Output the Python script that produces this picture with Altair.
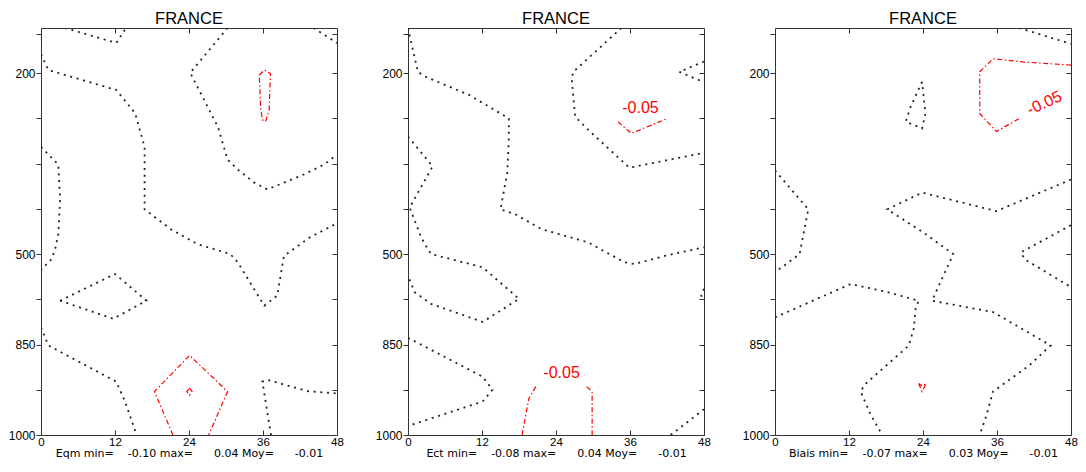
import altair as alt
import pandas as pd

# ---------------- axes definitions ----------------
LEADS = [0, 12, 24, 36, 48]
INNER_LEADS = [12, 24, 36]
LEVEL_POS = [0.14, 1, 2, 3, 4, 5, 6, 7, 8, 9]
LEVEL_LABELS = ["", "200", "", "", "", "500", "", "850", "", "1000"]
TITLE = "FRANCE"
NB = "\u00a0"

# ---------------- panel 1 : Eqm ----------------
EQM_STATS = "Eqm min=" + NB * 4 + "-0.10" + NB + "max=" + NB * 6 + "0.04" + NB + "Moy=" + NB * 6 + "-0.01"
EQM_ZERO = [
    [(3.9, 0), (12.2, 0.33), (13.8, 0)],
    [(0, 0.58), (1.2, 0.93), (12.2, 1.37), (15.25, 1.88), (16.8, 2.63), (16.8, 4.01), (21.05, 4.45),
     (25.4, 4.78), (30.7, 5.0), (31.9, 5.18), (36.2, 6.14), (38.3, 5.92), (39.4, 5.04), (43.6, 4.63), (48, 4.32)],
    [(30.25, 0), (24.2, 0.99), (28.7, 2.19), (30.25, 2.91), (31.9, 3.13), (34.6, 3.42), (36.7, 3.57),
     (39.4, 3.42), (42.6, 3.24), (45.9, 3.02), (48, 2.8)],
    [(44.2, 0), (48, 0.33)],
    [(0, 2.63), (2.8, 3.02), (3.1, 3.79), (2.8, 4.56), (2.3, 4.89), (1.7, 5.11), (0, 5.35)],
    [(3.1, 6.03), (12.0, 5.44), (17.1, 6.03), (11.7, 6.43), (3.1, 6.03)],
    [(0, 6.62), (1.2, 7.02), (12.2, 7.82), (13.6, 8.25), (15.5, 9.0)],
    [(37.3, 9.0), (35.9, 7.82), (36.7, 7.78), (43.2, 8.03), (48, 8.08)],
]
EQM_NEG = [
    [(35.4, 1.04), (36.2, 0.93), (37.2, 1.01), (37.0, 1.81), (36.4, 2.07), (35.9, 2.03), (35.6, 1.74), (35.4, 1.04)],
    [(21.4, 9.0), (18.4, 8.04), (24.1, 7.24), (30.25, 8.04), (27.2, 9.0)],
    [(24.07, 7.96), (24.5, 8.04), (24.07, 8.12), (23.65, 8.04), (24.07, 7.96)],
]
EQM_LABELS = []

# ---------------- panel 2 : Ect ----------------
ECT_STATS = "Ect min=" + NB * 4 + "-0.08" + NB + "max=" + NB * 6 + "0.04" + NB + "Moy=" + NB * 6 + "-0.01"
ECT_ZERO = [
    [(0, 0), (0.8, 0.49), (1.6, 0.97), (2.9, 1.08), (9.9, 1.48), (16.35, 2.0), (16.35, 2.47), (16.1, 3.2),
     (15.0, 4.01), (17.4, 4.12), (21.7, 4.45), (29.2, 4.74), (35.1, 5.18), (36.7, 5.22), (41.6, 5.04), (48, 4.85)],
    [(34.6, 0), (26.8, 0.97), (26.55, 1.12), (27.1, 1.96), (29.2, 2.25), (35.9, 3.09), (48, 2.76)],
    [(48, 0.74), (44.0, 0.97), (48, 1.2)],
    [(0, 2.4), (4.0, 3.06), (0.26, 3.97), (2.14, 4.63), (3.2, 4.89), (3.75, 5.0), (12.1, 5.29), (18.0, 5.99),
     (12.1, 6.5), (3.75, 6.1), (1.06, 5.84), (0, 5.48)],
    [(0, 6.85), (12.1, 7.71), (13.7, 8.0), (12.1, 8.26), (0, 8.8)],
    [(42.6, 9.0), (48, 8.43)],
    [(48, 5.77), (47.5, 5.9), (48, 6.03)],
]
ECT_NEG = [
    [(34.05, 2.07), (36.2, 2.33), (42.1, 2.0)],
    [(18.5, 9.0), (19.6, 8.19), (20.9, 7.89)],
    [(28.96, 7.93), (29.86, 8.04), (29.86, 9.0)],
]
ECT_LABELS = [(37.7, 1.76, "-0.05", 0), (24.9, 7.62, "-0.05", 0)]

# ---------------- panel 3 : Biais ----------------
BIAIS_STATS = "Biais min=" + NB * 4 + "-0.07" + NB + "max=" + NB * 6 + "0.03" + NB + "Moy=" + NB * 6 + "-0.01"
BIAIS_ZERO = [
    [(39.6, 0), (48, 0.35)],
    [(23.85, 1.19), (22.0, 1.74), (21.2, 2.07), (23.85, 2.22), (24.4, 1.89), (23.85, 1.19)],
    [(0, 3.15), (5.4, 4.01), (4.45, 4.67), (4.0, 5.0), (0, 5.4)],
    [(48, 3.35), (35.9, 4.05), (23.85, 3.64), (18.2, 4.01), (24.06, 4.52), (28.9, 5.0), (27.3, 5.48),
     (25.45, 6.03), (30.5, 6.16), (35.35, 6.28), (44.7, 7.02), (41.25, 7.46), (35.35, 8.04), (34.3, 8.56), (33.2, 9.0)],
    [(0, 6.4), (12.3, 5.66), (18.2, 5.84), (23.3, 6.03), (22.8, 6.21), (22.5, 6.65), (21.7, 7.02), (18.75, 7.38),
     (14.5, 7.89), (13.9, 8.04), (15.5, 8.55), (17.4, 9.0)],
    [(48, 4.36), (39.9, 4.96), (40.45, 5.11), (48, 5.73)],
]
BIAIS_NEG = [
    [(48, 0.82), (40.2, 0.75), (35.35, 0.68), (33.2, 0.97), (33.2, 1.89), (35.9, 2.29), (39.6, 2.0)],
    [(23.3, 7.86), (23.85, 8.04), (24.5, 7.86), (23.9, 7.92), (23.3, 7.86)],
]
BIAIS_LABELS = [(43.7, 1.66, "-0.05", 335)]

W, H, GAP = 296, 407, 71
PAD_L, PAD_T, SVG_W, SVG_H = 33, 20, 1070, 453
FONT = "Liberation Sans"
STATS_FONT = "DejaVu Sans"

label_expr = " : ".join(
    f"datum.value == {p} ? '{l}'" for p, l in zip(LEVEL_POS, LEVEL_LABELS) if l
) + " : ''"


def paths_df(paths, prefix):
    rows = []
    for i, path in enumerate(paths):
        for j, (x, y) in enumerate(path):
            rows.append({"line": f"{prefix}{i}", "order": j, "lead": x, "lev": y})
    return pd.DataFrame(rows, columns=["line", "order", "lead", "lev"])


def labels_df(labels):
    return pd.DataFrame(
        [{"lead": x, "lev": y, "txt": t, "ang": a} for x, y, t, a in labels],
        columns=["lead", "lev", "txt", "ang"],
    )


XS = alt.Scale(domain=[0, 48], nice=False, zero=False)
YS = alt.Scale(domain=[0, 9], reverse=True, nice=False, zero=False)


def panel(zero, neg, labels, stats):
    black = alt.Chart(paths_df(zero, "z")).mark_line(
        color="#222222", strokeWidth=1.8, strokeDash=[2, 4.7], clip=True
    ).encode(
        x=alt.X("lead:Q", scale=XS, axis=alt.Axis(
            orient="bottom", values=LEADS, ticks=False, tickSize=0, domain=False, grid=False,
            labelPadding=1, labelFlush=False, labelFontSize=11.5, title=stats, titleFontSize=11,
            titleFontWeight="normal", titlePadding=0, titleColor="black", titleFont=STATS_FONT)),
        y=alt.Y("lev:Q", scale=YS, axis=alt.Axis(
            orient="left", values=LEVEL_POS, labelExpr=label_expr, ticks=True, tickSize=5,
            tickColor="#333333", domain=False, grid=False, labelPadding=1, title=None)),
        detail="line:N",
        order=alt.Order("order:Q"),
    )
    red = alt.Chart(paths_df(neg, "n")).mark_line(
        color="#ff0000", strokeWidth=1.2, strokeDash=[5, 2.5, 1.5, 2.5], clip=True
    ).encode(
        x=alt.X("lead:Q", scale=XS, axis=alt.Axis(
            orient="top", offset=-H, values=INNER_LEADS, labels=False, ticks=True, tickSize=5,
            tickColor="#333333", domain=False, grid=False, title=None)),
        y=alt.Y("lev:Q", scale=YS, axis=alt.Axis(
            orient="left", offset=-W, values=LEVEL_POS, labels=False, ticks=True, tickSize=5,
            tickColor="#333333", domain=False, grid=False, title=None)),
        detail="line:N",
        order=alt.Order("order:Q"),
    )
    text = alt.Chart(labels_df(labels)).mark_text(
        color="#ff0000", fontSize=16, font=FONT
    ).encode(
        x=alt.X("lead:Q", scale=XS, axis=alt.Axis(
            orient="bottom", offset=-H, values=INNER_LEADS, labels=False, ticks=True, tickSize=5,
            tickColor="#333333", domain=False, grid=False, title=None)),
        y=alt.Y("lev:Q", scale=YS, axis=None),
        text="txt:N",
        angle=alt.Angle("ang:Q", scale=None),
    )
    return alt.layer(black, red, text).resolve_axis(x="independent", y="independent").properties(
        width=W, height=H,
        title=alt.TitleParams(TITLE, fontSize=16.5, font=FONT, fontWeight="normal", color="black", offset=0),
    )


chart = alt.hconcat(
    panel(EQM_ZERO, EQM_NEG, EQM_LABELS, EQM_STATS),
    panel(ECT_ZERO, ECT_NEG, ECT_LABELS, ECT_STATS),
    panel(BIAIS_ZERO, BIAIS_NEG, BIAIS_LABELS, BIAIS_STATS),
    spacing=GAP, bounds="flush",
).properties(
    autosize=alt.AutoSizeParams(type="none"),
    padding={"left": PAD_L, "top": PAD_T, "right": SVG_W - PAD_L, "bottom": SVG_H - PAD_T},
).configure_axis(
    labelFont=FONT, labelFontSize=12, labelColor="black",
).configure_view(
    stroke="#333333", strokeWidth=1,
)

chart.save("out.html", embed_options={"renderer": "svg", "actions": False})
